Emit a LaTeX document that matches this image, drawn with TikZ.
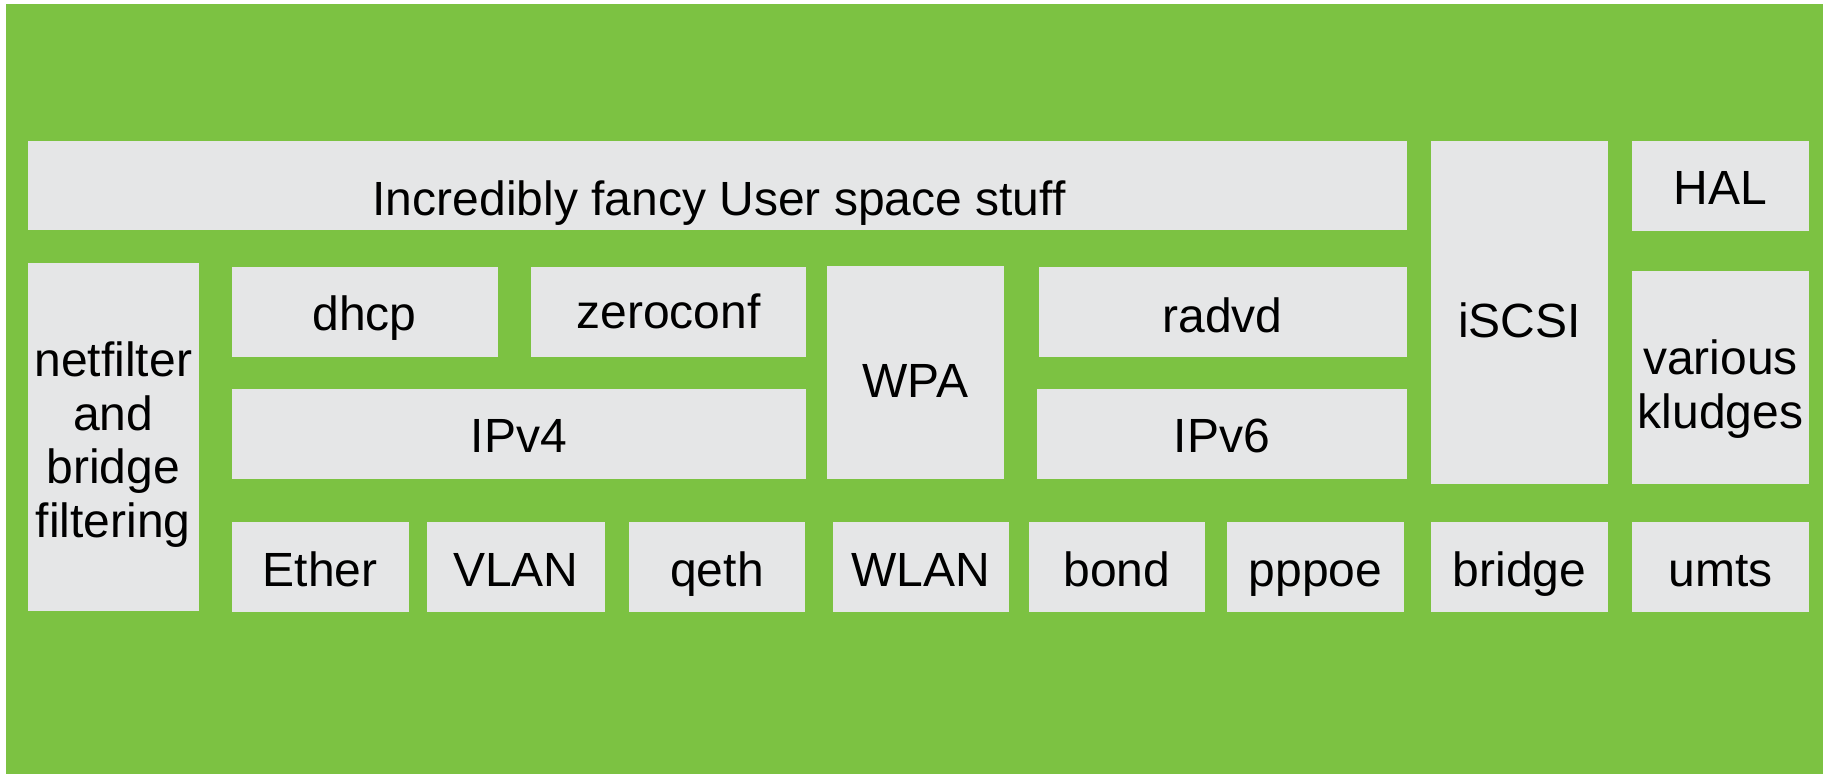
\documentclass[tikz,border=0pt]{standalone}
\usepackage{fontspec}
\setmainfont{Liberation Sans}
\usetikzlibrary{fit}
\definecolor{bggreen}{RGB}{124,194,66}
\definecolor{boxgray}{RGB}{229,230,231}
\begin{document}
\begin{tikzpicture}[x=1pt,y=-1pt,
  box/.style={fill=boxgray, draw=none, inner sep=0pt, outer sep=0pt},
  lbl/.style={anchor=base, font=\fontsize{48}{53.5}\selectfont, inner sep=0pt, align=center}]
\useasboundingbox (0,0) rectangle (1827,774);
\fill[white] (0,0) rectangle (1827,774);
\fill[bggreen] (5.5,4) rectangle (1822.5,774);
% boxes
\node[box, fit={(27.6,140.7) (1406.9,230)}] (user) {};
\node[box, fit={(27.6,263.3) (199,611.3)}] (netf) {};
\node[box, fit={(231.5,266.7) (497.5,356.8)}] (dhcp) {};
\node[box, fit={(531,267) (806,357)}] (zeroconf) {};
\node[box, fit={(231.5,389) (806,478.6)}] (ipv4) {};
\node[box, fit={(826.8,266) (1004,478.5)}] (wpa) {};
\node[box, fit={(1038.8,267) (1406.5,357)}] (radvd) {};
\node[box, fit={(1037,389) (1406.5,478.5)}] (ipv6) {};
\node[box, fit={(1431,141) (1608,483.8)}] (iscsi) {};
\node[box, fit={(1632,141) (1809,230.5)}] (hal) {};
\node[box, fit={(1632,271) (1809,483.8)}] (various) {};
\node[box, fit={(231.5,522) (408.7,611.5)}] (ether) {};
\node[box, fit={(427,522) (604.5,611.5)}] (vlan) {};
\node[box, fit={(629,522) (805,611.5)}] (qeth) {};
\node[box, fit={(832.6,522) (1009,611.5)}] (wlan) {};
\node[box, fit={(1028.5,522) (1205,611.5)}] (bond) {};
\node[box, fit={(1227,522) (1404,611.5)}] (pppoe) {};
\node[box, fit={(1431,522) (1608,611.5)}] (bridge) {};
\node[box, fit={(1632,522) (1809,611.5)}] (umts) {};
% labels (anchor=base is the baseline of the last line)
\node[lbl] (userT) at (719,215) {Incredibly fancy User space stuff};
\node[lbl] (netfT) at (113.3,537) {netfilter\\and\\bridge\\filtering};
\node[lbl] (dhcpT) at (364.5,330) {dhcp};
\node[lbl] (zeroconfT) at (668.5,328) {zeroconf};
\node[lbl] (ipv4T) at (518.75,452.7) {IPv4};
\node[lbl] (wpaT) at (915.4,397) {WPA};
\node[lbl] (radvdT) at (1222.6,332) {radvd};
\node[lbl] (ipv6T) at (1221.75,452.5) {IPv6};
\node[lbl] (iscsiT) at (1519.5,337) {iSCSI};
\node[lbl] (halT) at (1720.5,204.5) {HAL};
\node[lbl] (variousT) at (1720.5,428) {various\\kludges};
\node[lbl] (etherT) at (320.1,586) {Ether};
\node[lbl] (vlanT) at (515.75,586) {VLAN};
\node[lbl] (qethT) at (717,586) {qeth};
\node[lbl] (wlanT) at (920.8,586) {WLAN};
\node[lbl] (bondT) at (1116.75,586) {bond};
\node[lbl] (pppoeT) at (1315.5,586) {pppoe};
\node[lbl] (bridgeT) at (1519.5,586) {bridge};
\node[lbl] (umtsT) at (1720.5,586) {umts};
\end{tikzpicture}
\end{document}
